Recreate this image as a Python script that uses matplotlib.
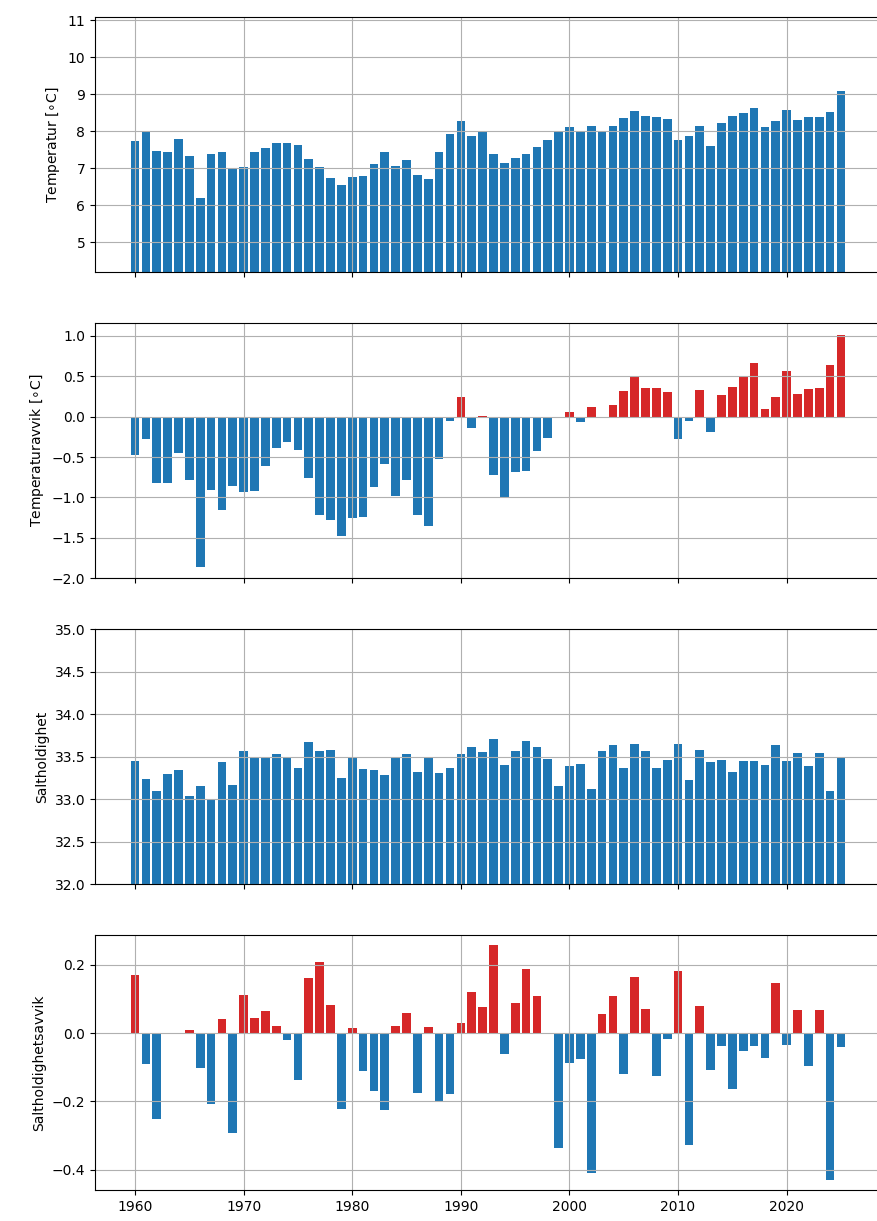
import matplotlib
matplotlib.use('Agg')
import matplotlib.pyplot as plt
from matplotlib.ticker import MultipleLocator
import numpy as np

# years of the series
years = np.arange(1960, 2026)

# annual mean temperature
temperatur = [7.73, 7.98, 7.46, 7.43, 7.78, 7.32, 6.19, 7.39, 7.43, 6.97,
              7.03, 7.43, 7.53, 7.69, 7.68, 7.62, 7.25, 7.03, 6.72, 6.53,
              6.76, 6.79, 7.12, 7.43, 7.06, 7.23, 6.80, 6.71, 7.43, 7.93,
              8.27, 7.88, 7.98, 7.39, 7.15, 7.28, 7.37, 7.58, 7.76, 7.98,
              8.11, 7.97, 8.13, 7.98, 8.15, 8.36, 8.53, 8.40, 8.37, 8.33,
              7.75, 7.88, 8.13, 7.60, 8.22, 8.40, 8.49, 8.62, 8.11, 8.26,
              8.58, 8.31, 8.37, 8.38, 8.52, 9.08]

# temperature anomaly
temperaturavvik = [-0.48, -0.28, -0.82, -0.82, -0.45, -0.78, -1.86, -0.91, -1.16, -0.86,
                   -0.93, -0.92, -0.61, -0.39, -0.32, -0.41, -0.76, -1.22, -1.28, -1.48,
                   -1.25, -1.24, -0.87, -0.59, -0.98, -0.78, -1.22, -1.35, -0.52, -0.05,
                   0.24, -0.14, 0.01, -0.72, -0.99, -0.69, -0.67, -0.42, -0.26, -0.02,
                   0.06, -0.07, 0.12, -0.01, 0.14, 0.32, 0.49, 0.35, 0.35, 0.30,
                   -0.28, -0.05, 0.33, -0.19, 0.27, 0.37, 0.49, 0.67, 0.10, 0.24,
                   0.57, 0.28, 0.34, 0.355, 0.64, 1.01]

# annual mean salinity
saltholdighet = [33.45, 33.23, 33.10, 33.29, 33.34, 33.04, 33.15, 33.00, 33.44, 33.16,
                 33.57, 33.50, 33.48, 33.53, 33.49, 33.36, 33.67, 33.56, 33.58, 33.25,
                 33.48, 33.35, 33.34, 33.28, 33.49, 33.53, 33.32, 33.49, 33.31, 33.36,
                 33.53, 33.61, 33.55, 33.71, 33.40, 33.57, 33.68, 33.61, 33.47, 33.15,
                 33.39, 33.41, 33.12, 33.56, 33.63, 33.36, 33.65, 33.56, 33.37, 33.46,
                 33.65, 33.22, 33.58, 33.43, 33.46, 33.32, 33.45, 33.45, 33.40, 33.63,
                 33.45, 33.54, 33.39, 33.54, 33.10, 33.49]

# salinity anomaly
saltholdighetsavvik = [0.170, -0.089, -0.251, 0.0, 0.0, 0.010, -0.101, -0.207, 0.042, -0.293,
                       0.112, 0.044, 0.064, 0.020, -0.021, -0.136, 0.160, 0.209, 0.081, -0.221,
                       0.016, -0.111, -0.170, -0.224, 0.022, 0.060, -0.176, 0.017, -0.203, -0.178,
                       0.031, 0.121, 0.075, 0.257, -0.062, 0.087, 0.187, 0.110, 0.0, -0.336,
                       -0.088, -0.077, -0.408, 0.056, 0.108, -0.121, 0.165, 0.071, -0.125, -0.018,
                       0.183, -0.326, 0.078, -0.109, -0.037, -0.164, -0.052, -0.038, -0.072, 0.147,
                       -0.034, 0.068, -0.095, 0.067, -0.429, -0.040]

blue = '#1f77b4'
red = '#d62728'

fig, axes = plt.subplots(4, 1, figsize=(8.77, 12.21), dpi=100, sharex=True)
fig.subplots_adjust(left=0.1083, right=1.0046, top=0.986, bottom=0.0254, hspace=0.2)

# plain bars
ax = axes[0]
ax.bar(years, temperatur, color=blue)
ax.set_ylim(min(temperatur) - 2, max(temperatur) + 2)
ax.set_ylabel(r'Temperatur [$\circ$C]')

# anomaly bars, red above zero and blue below
ax = axes[1]
t_anom = np.array(temperaturavvik)
ax.bar(years, t_anom, color=np.where(t_anom > 0, red, blue))
ax.set_ylim(-2.0, t_anom.max() + 0.15)
ax.set_ylabel(r'Temperaturavvik [$\circ$C]')

ax = axes[2]
ax.bar(years, saltholdighet, color=blue)
ax.set_ylim(32, 35)
ax.set_ylabel('Saltholdighet')

ax = axes[3]
s_anom = np.array(saltholdighetsavvik)
ax.bar(years, s_anom, color=np.where(s_anom > 0, red, blue))
ax.set_ylim(s_anom.min() - 0.03, s_anom.max() + 0.03)
ax.yaxis.set_major_locator(MultipleLocator(0.2))
ax.set_ylabel('Saltholdighetsavvik')

for ax in axes:
    ax.grid(True)
    ax.set_xticks(np.arange(1960, 2030, 10))

plt.savefig('out.png', dpi=100)
